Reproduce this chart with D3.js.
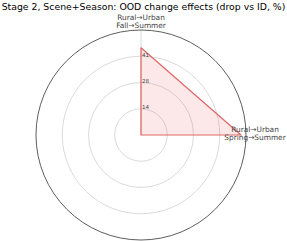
<!DOCTYPE html>
<html>
<head>
<meta charset="utf-8">
<script src="https://cdn.jsdelivr.net/npm/d3@7"></script>
<style>
body{margin:0;background:#fff}
text{font-family:"DejaVu Sans",sans-serif}
</style>
</head>
<body>
<script>
//Chart data
var categories = [["Rural\u2192Urban","Fall\u2192Summer"],["Rural\u2192Urban","Spring\u2192Summer"],null,null]
var values = [45.7,52.4,0,0]
var tickValues = [13.75,27.5,41.25]
var tickLabels = ["14","28","41"]
var rMaxValue = 55

var W = 287, H = 241, cx = 141, cy = 135, R = 105

var svg = d3.select("body").append("svg").attr("width",W).attr("height",H)

var r = d3.scaleLinear().domain([0,rMaxValue]).range([0,R])
var angle = d3.scaleLinear().domain([0,categories.length]).range([0,2*Math.PI]) //clockwise from top

var g = svg.append("g").attr("transform","translate("+cx+","+cy+")")

//Grid circles
g.selectAll(".grid").data(tickValues).enter().append("circle")
    .attr("r",function(d){return r(d)})
    .attr("fill","none").attr("stroke","#d0d0d0").attr("stroke-width",0.8)

//Angular grid line (only first axis visible)
g.append("line").attr("x1",0).attr("y1",0).attr("x2",0).attr("y2",-R)
    .attr("stroke","#d0d0d0").attr("stroke-width",0.8)

//Polygon
var line = d3.lineRadial()
    .angle(function(d,i){return angle(i)})
    .radius(function(d){return r(d)})
    .curve(d3.curveLinearClosed)

g.append("path").datum(values).attr("d",line)
    .attr("fill","#e84a4a").attr("fill-opacity",0.13)
    .attr("stroke","#e06666").attr("stroke-width",1.2).attr("stroke-linejoin","round")

//Outer circle
g.append("circle").attr("r",R).attr("fill","none").attr("stroke","#333").attr("stroke-width",0.8)

//Radial tick labels
g.selectAll(".tick").data(tickValues).enter().append("text")
    .attr("x",1).attr("y",function(d){return -r(d)+0.5})
    .attr("font-size",5.5).attr("fill","#444")
    .text(function(d,i){return tickLabels[i]})

//Category labels
var labelPos = [{x:0,y:-115.5,w:51},{x:114,y:-3,w:62}]
categories.forEach(function(c,i){
    if(!c) return
    var t = g.append("text").attr("text-anchor","middle").attr("font-size",7.4).attr("fill","#444")
        .attr("x",labelPos[i].x).attr("y",labelPos[i].y)
    c.forEach(function(s,j){
        t.append("tspan").attr("x",labelPos[i].x).attr("dy",j==0?0:8).text(s)
    })
})

//Title
var title = svg.append("text").attr("x",143.5).attr("y",10).attr("text-anchor","middle")
    .attr("font-size",9).attr("fill","#000")
    .text("Stage 2, Scene+Season: OOD change effects (drop vs ID, %)")
var tw = title.node().getComputedTextLength()
title.attr("font-size",9*284/tw)
</script>
</body>
</html>
